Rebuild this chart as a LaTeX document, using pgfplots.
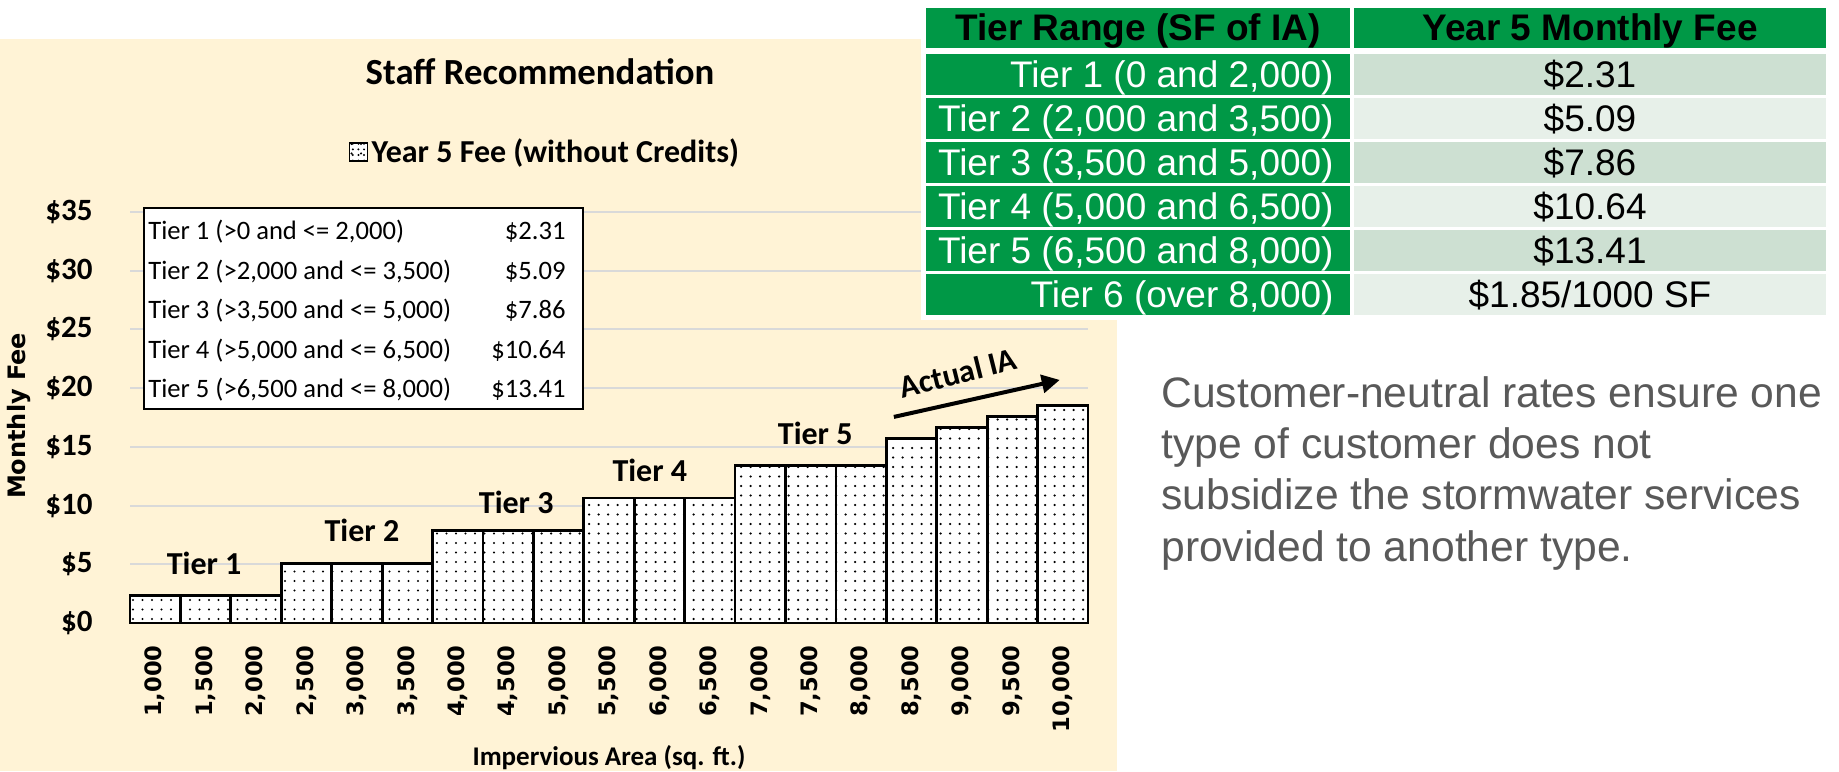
\documentclass[border=0pt]{standalone}
\usepackage{fontspec}
\setmainfont{Carlito}
\newfontfamily\dvfont{DejaVu Sans}
\newfontfamily\arialfont{Liberation Sans}
\usepackage{pgfplots}
\usepackage{pgfplotstable}
\pgfplotsset{compat=1.18}
\usetikzlibrary{patterns.meta,arrows.meta}
\definecolor{cream}{RGB}{255,243,214}
\definecolor{tgreen}{RGB}{0,152,70}
\definecolor{rowdark}{RGB}{205,224,210}
\definecolor{rowlight}{RGB}{231,240,233}
\definecolor{gridc}{RGB}{217,217,217}
\definecolor{axisc}{RGB}{175,175,175}
\definecolor{bodygray}{RGB}{89,89,89}

\pgfplotstableread{
x y
0 2.31
1 2.31
2 2.31
3 5.09
4 5.09
5 5.09
6 7.86
7 7.86
8 7.86
9 10.64
10 10.64
11 10.64
12 13.41
13 13.41
14 13.41
15 15.73
16 16.65
17 17.58
18 18.50
}\feedata

\newcommand{\fs}[1]{\fontsize{#1}{#1}\selectfont}

\begin{document}
\begin{tikzpicture}[x=0.5pt,y=0.5pt]
\useasboundingbox (0,0) rectangle (1839,771);
\begin{scope}[y=-0.5pt, yshift=385.5pt]
\fill[white] (0,0) rectangle (1839,771);
\fill[cream] (0,39) rectangle (1117,771);
\end{scope}

\begin{axis}[
  at={(65pt,74pt)}, anchor=south west,
  scale only axis, width=479pt, height=205.5pt,
  xmin=-0.5, xmax=18.5, ymin=0, ymax=35,
  axis line style={draw=none},
  major tick length=0pt, tick style={draw=none},
  ymajorgrids, grid style={gridc, line width=1pt},
  ytick={0,5,...,35},
  yticklabels={\$0,\$5,\$10,\$15,\$20,\$25,\$30,\$35},
  yticklabel style={font=\bfseries\fs{15.5}, anchor=east, inner sep=0pt, xshift=-18.5pt},
  xtick={0,...,18},
  xticklabels={{1,000},{1,500},{2,000},{2,500},{3,000},{3,500},{4,000},{4,500},{5,000},{5,500},{6,000},{6,500},{7,000},{7,500},{8,000},{8,500},{9,000},{9,500},{10,000}},
  xticklabel style={font=\dvfont\bfseries\fs{11.3}, yshift=-11pt, rotate=90, anchor=east, inner sep=0pt},
  ybar, bar width=1,
  title={Staff Recommendation},
  title style={at={(axis description cs:0.428,1.311)}, anchor=center, font=\bfseries\fs{18.4}, inner sep=0pt},
  xlabel={Impervious Area (sq. ft.)},
  xlabel style={at={(axis description cs:0.5,-0.328)}, anchor=center, font=\bfseries\fs{13.5}, inner sep=0pt},
  ylabel={Monthly Fee},
  ylabel style={at={(axis description cs:-0.116,0.504)}, anchor=center, font=\dvfont\bfseries\fs{12}, inner sep=0pt},
  legend style={at={(axis description cs:0.434,1.146)}, anchor=center, draw=none, fill=none, font=\bfseries\fs{16}, inner sep=0pt},
  legend image code/.code={\draw[black,line width=0.6pt,fill=white,postaction={pattern={Dots[distance=2.8pt,radius=0.55pt]}}] (0pt,-4.5pt) rectangle (9pt,4.5pt);},
  clip=false,
]
\draw[axisc, line width=1pt] (axis cs:-0.5,0) -- (axis cs:18.5,0);
\addplot[fill=white, draw=black, line width=1.4pt,
  postaction={pattern={Dots[distance=4.75pt,radius=0.62pt]}}]
  table[x=x,y=y]{\feedata};
\addlegendentry{Year 5 Fee (without Credits)}
\node[font=\bfseries\fs{16}] at (axis cs:0.97,5.11) {Tier 1};
\node[font=\bfseries\fs{16}] at (axis cs:4.10,7.92) {Tier 2};
\node[font=\bfseries\fs{16}] at (axis cs:7.16,10.31) {Tier 3};
\node[font=\bfseries\fs{16}] at (axis cs:9.81,13.03) {Tier 4};
\node[font=\bfseries\fs{16}] at (axis cs:13.09,16.18) {Tier 5};
\draw[line width=2pt, -{Triangle[length=9pt,width=9pt]}] (axis cs:14.65,17.55) -- (axis cs:17.94,20.70);
\node[font=\bfseries\fs{16}, rotate=14] at (axis cs:15.92,21.3) {Actual IA};
\end{axis}

\begin{scope}[y=-0.5pt, yshift=385.5pt]
% inset text box
\draw[black, line width=1pt, fill=white] (144,208) rectangle (583,409);
\begin{scope}[every node/.style={font=\fs{13.3}, inner sep=0pt}]
\node[anchor=base west] at (148,240) {Tier 1 (>0 and <= 2,000)};
\node[anchor=base east] at (566,240) {\$2.31};
\node[anchor=base west] at (148,279.5) {Tier 2 (>2,000 and <= 3,500)};
\node[anchor=base east] at (566,279.5) {\$5.09};
\node[anchor=base west] at (148,319) {Tier 3 (>3,500 and <= 5,000)};
\node[anchor=base east] at (566,319) {\$7.86};
\node[anchor=base west] at (148,358.5) {Tier 4 (>5,000 and <= 6,500)};
\node[anchor=base east] at (566,358.5) {\$10.64};
\node[anchor=base west] at (148,398) {Tier 5 (>6,500 and <= 8,000)};
\node[anchor=base east] at (566,398) {\$13.41};
\end{scope}

% table
\fill[white] (921,3) rectangle (1831,320);
\fill[tgreen] (926,8) rectangle (1350,48);
\fill[tgreen] (1354,8) rectangle (1826,48);
\foreach \t/\c in {54/rowdark,98/rowlight,142/rowdark,186/rowlight,230/rowdark,274/rowlight}{
  \fill[tgreen] (926,\t) rectangle (1350,\t+41);
  \fill[\c] (1354,\t) rectangle (1826,\t+41);
}
\begin{scope}[every node/.style={font=\arialfont\fs{18.5}, inner sep=0pt}]
\node[anchor=base, font=\arialfont\bfseries\fs{18.5}] at (1138,41) {Tier Range (SF of IA)};
\node[anchor=base, font=\arialfont\bfseries\fs{18.5}] at (1590,41) {Year 5 Monthly Fee};
\node[anchor=base east, text=white] at (1334,87.5) {Tier 1 (0 and 2,000)};
\node[anchor=base east, text=white] at (1334,131.5) {Tier 2 (2,000 and 3,500)};
\node[anchor=base east, text=white] at (1334,175.5) {Tier 3 (3,500 and 5,000)};
\node[anchor=base east, text=white] at (1334,219.5) {Tier 4 (5,000 and 6,500)};
\node[anchor=base east, text=white] at (1334,263.5) {Tier 5 (6,500 and 8,000)};
\node[anchor=base east, text=white] at (1334,307.5) {Tier 6 (over 8,000)};
\node[anchor=base] at (1590,87.5) {\$2.31};
\node[anchor=base] at (1590,131.5) {\$5.09};
\node[anchor=base] at (1590,175.5) {\$7.86};
\node[anchor=base] at (1590,219.5) {\$10.64};
\node[anchor=base] at (1590,263.5) {\$13.41};
\node[anchor=base] at (1590,307.5) {\$1.85/1000 SF};
\end{scope}

% body text
\begin{scope}[every node/.style={font=\arialfont\fs{21.3}, text=bodygray, inner sep=0pt, anchor=base west}]
\node at (1161,408) {Customer-neutral rates ensure one};
\node at (1161,459) {type of customer does not};
\node at (1161,510) {subsidize the stormwater services};
\node at (1161,561) {provided to another type.};
\end{scope}
\end{scope}
\end{tikzpicture}
\end{document}
